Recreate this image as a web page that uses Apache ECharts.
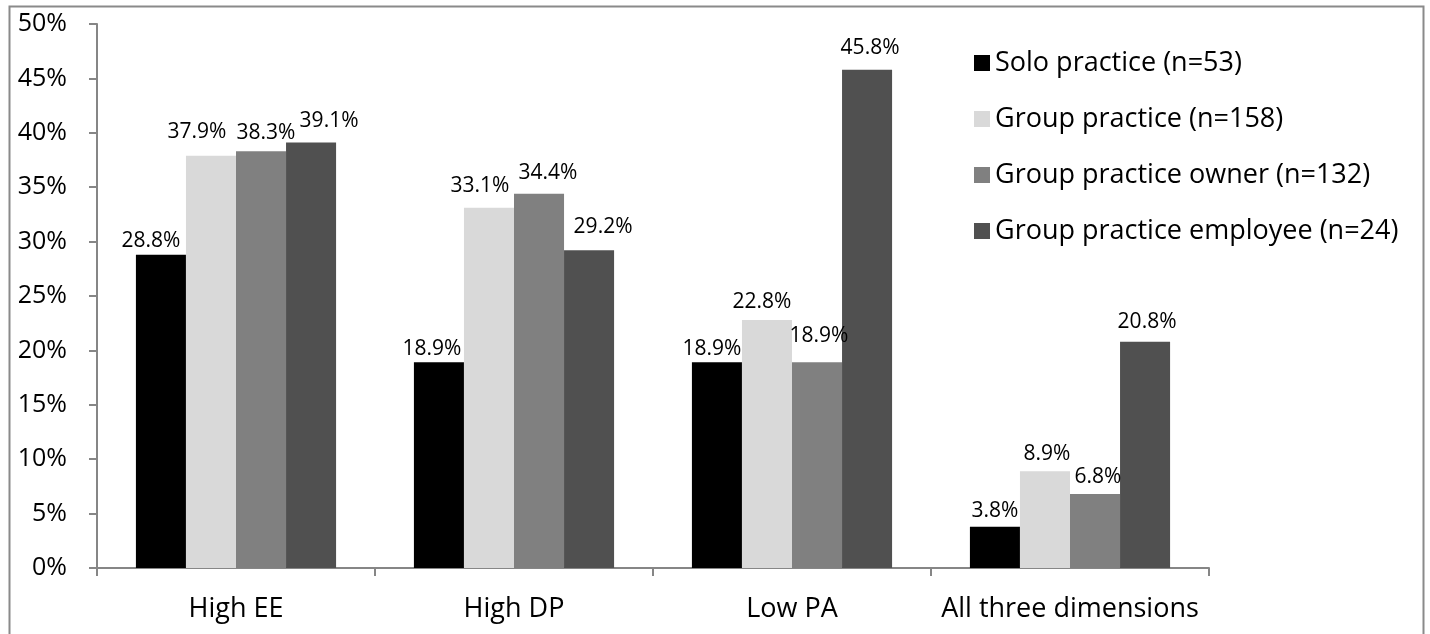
<!DOCTYPE html>
<html>
<head>
<meta charset="utf-8">
<script src="https://cdn.jsdelivr.net/npm/echarts@6/dist/echarts.min.js"></script>
<style>
  html, body { margin: 0; padding: 0; background: #fff; }
  #chart { width: 1430px; height: 634px; }
</style>
</head>
<body>
<div id="chart"></div>
<script>
// Burnout dimensions by practice type (percent of respondents)
const categories = ['High EE', 'High DP', 'Low PA', 'All three dimensions'];
const seriesNames = [
  'Solo practice (n=53)',
  'Group practice (n=158)',
  'Group practice owner (n=132)',
  'Group practice employee (n=24)'
];
const soloPractice = [28.8, 18.9, 18.9, 3.8];
const groupPractice = [37.9, 33.1, 22.8, 8.9];
const groupOwner = [38.3, 34.4, 18.9, 6.8];
const groupEmployee = [39.1, 29.2, 45.8, 20.8];
const yTicks = { min: 0, max: 50, interval: 5 };

// Styling: nudges [dx, dy] that keep neighbouring value labels apart,
// one row per series, one entry per category.
const labelNudges = [
  [[-10, 0], [-7, 0], [-5, 0], [0, -2]],
  [[-14, -10], [-9, -8], [-5, -4], [2, -4]],
  [[5, -5], [9, -7], [2, -13], [3, -4]],
  [[18, -8], [14, -10], [3, -8], [2, -6]]
];

const colors = ['#000000', '#d9d9d9', '#808080', '#505050'];
const FONT = 'Open Sans';

const seriesData = [soloPractice, groupPractice, groupOwner, groupEmployee];

const chart = echarts.init(document.getElementById('chart'), null, { renderer: 'canvas' });

chart.setOption({
  animation: false,
  backgroundColor: '#ffffff',
  textStyle: { fontFamily: FONT },
  graphic: [{
    type: 'rect',
    shape: { x: 9.5, y: 6.5, width: 1414, height: 640 },
    style: { fill: 'none', stroke: '#8a8a8a', lineWidth: 2 },
    silent: true,
    z: -1
  }],
  grid: { left: 97, right: 221, top: 24, bottom: 66, containLabel: false },
  legend: {
    orient: 'vertical',
    left: 969,
    top: 43,
    itemWidth: 16,
    itemHeight: 16,
    itemGap: 26,
    icon: 'rect',
    textStyle: { fontFamily: FONT, fontSize: 27, color: '#000', lineHeight: 30 },
    data: seriesNames
  },
  xAxis: {
    type: 'category',
    data: categories,
    axisLine: { lineStyle: { color: '#868686', width: 2 } },
    axisTick: { show: true, length: 8, interval: 0, alignWithLabel: false, lineStyle: { color: '#868686', width: 2 } },
    axisLabel: { fontFamily: FONT, fontSize: 27, color: '#000', margin: 28, interval: 0 },
    splitLine: { show: false }
  },
  yAxis: {
    type: 'value',
    min: yTicks.min,
    max: yTicks.max,
    interval: yTicks.interval,
    axisLine: { show: true, lineStyle: { color: '#868686', width: 2 } },
    axisTick: { show: true, length: 8, lineStyle: { color: '#868686', width: 2 } },
    axisLabel: { fontFamily: FONT, fontSize: 25, color: '#000', margin: 30, formatter: '{value}%' },
    splitLine: { show: false }
  },
  series: seriesNames.map((name, i) => ({
    name: name,
    type: 'bar',
    data: seriesData[i].map((v, j) => ({ value: v, label: { offset: labelNudges[i][j] } })),
    barGap: '0%',
    barCategoryGap: '28%',
    itemStyle: { color: colors[i] },
    label: {
      show: true,
      position: 'top',
      distance: 3,
      fontFamily: FONT,
      fontSize: 21,
      color: '#000',
      formatter: p => p.value.toFixed(1) + '%'
    }
  }))
});
</script>
</body>
</html>
